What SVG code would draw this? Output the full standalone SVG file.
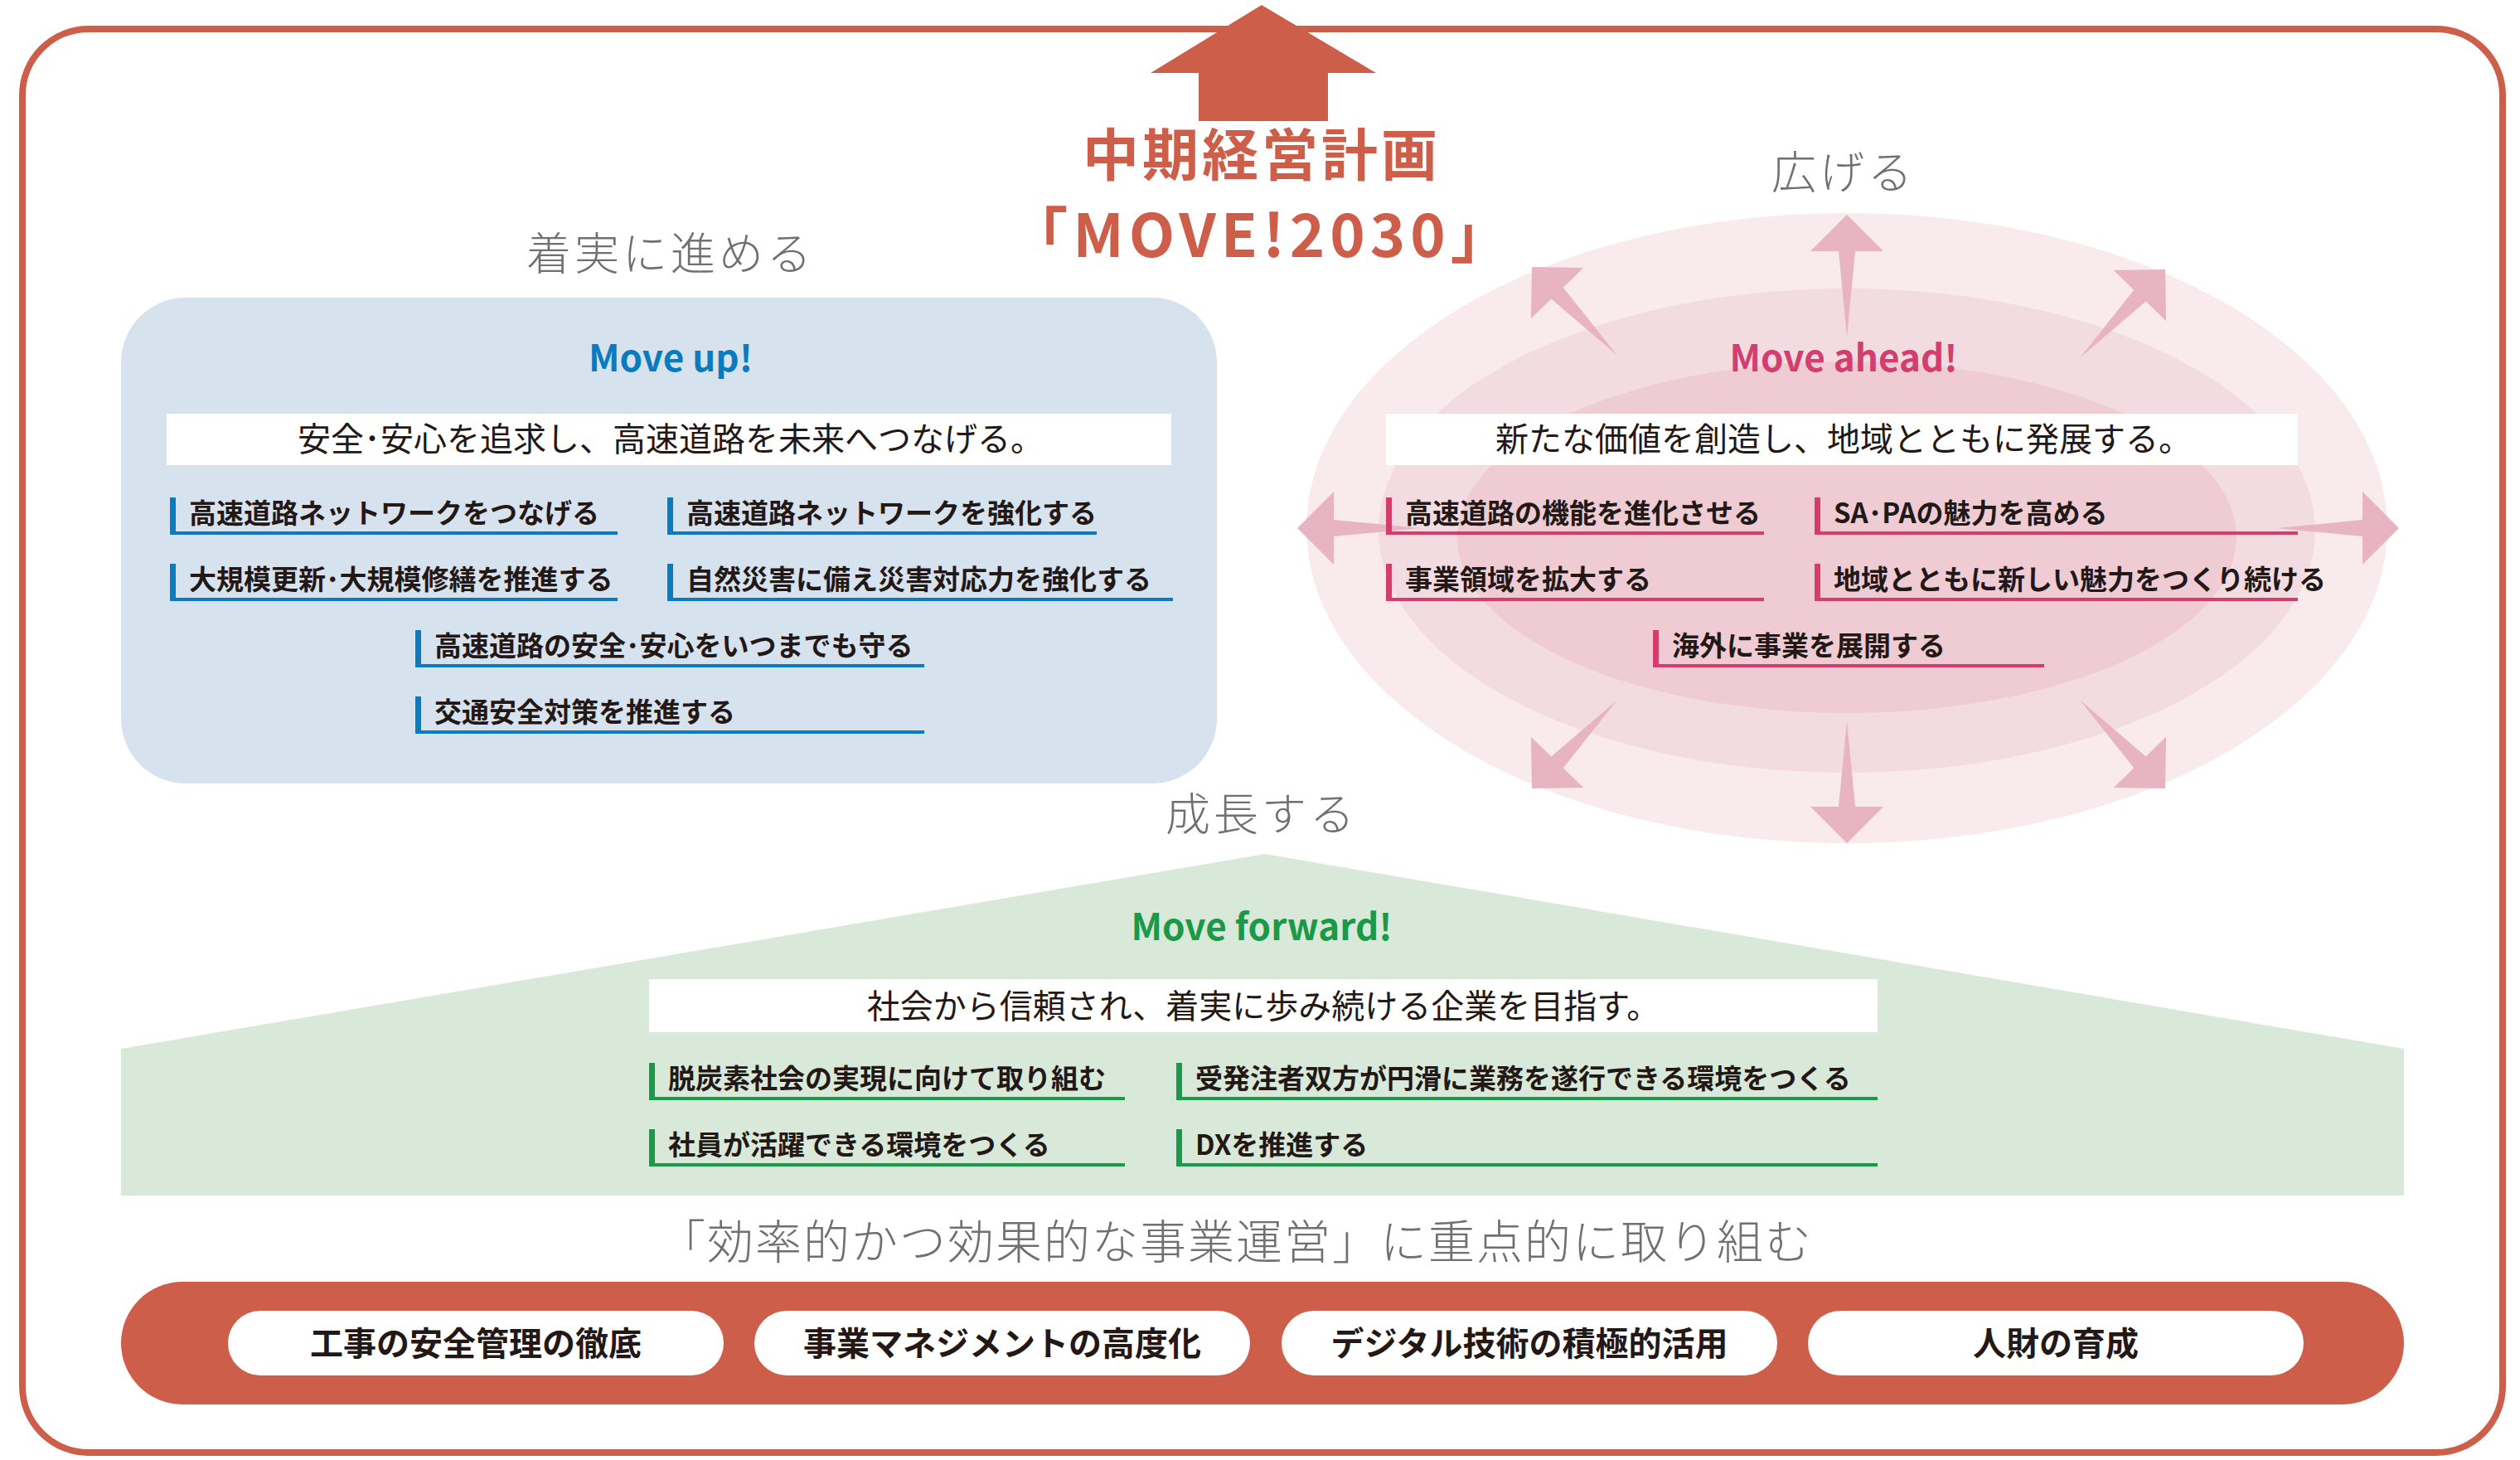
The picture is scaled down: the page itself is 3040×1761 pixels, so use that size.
<svg xmlns="http://www.w3.org/2000/svg" width="3040" height="1761" viewBox="0 0 3040 1761">
<style>
text{font-family:"Noto Sans CJK JP","Noto Sans",sans-serif}
.head{font-size:54px;fill:#707070;font-weight:300;text-anchor:middle;letter-spacing:4px}
.mv{font-size:44px;font-weight:700;text-anchor:middle}
.lead{font-size:40px;fill:#231815;text-anchor:middle}
.it{font-size:33px;font-weight:700;fill:#231815}
.pill{font-size:40px;font-weight:700;fill:#231815;text-anchor:middle}
.ab{fill:#e8b4c2}
</style>
<defs>
<polygon id="arr" points="0,0 44,44 10,44 0,148 -10,44 -44,44"/>
</defs>
<rect id="frame" x="27" y="35" width="2992" height="1717" rx="80" fill="none" stroke="#cd5f4a" stroke-width="8"/>
<g id="topArrow"><polygon points="1522,6 1660,88 1602,88 1602,146 1446,146 1446,88 1388,88" fill="#cd5f4a"/></g>
<g id="title">
<text x="1522" y="212" font-size="68" font-weight="700" fill="#cd5f4a" text-anchor="middle" letter-spacing="4">中期経営計画</text>
<text x="1522" y="310" font-size="72" font-weight="700" fill="#cd5f4a" text-anchor="middle" letter-spacing="6">「MOVE!2030」</text>
</g>
<g id="moveup">
<text class="head" x="809" y="326">着実に進める</text>
<rect x="146" y="359" width="1322" height="586" rx="78" fill="#d6e3ef"/>
<text class="mv" x="809" y="448" fill="#0a7bbf">Move up!</text>
<rect x="201" y="499" width="1212" height="62" fill="#fff"/>
<text class="lead" x="809" y="544">安全･安心を追求し、高速道路を未来へつなげる。</text>
<g fill="#0a7bbf">
<rect x="205" y="600" width="7" height="45"/><rect x="205" y="641" width="540" height="4"/>
<rect x="805" y="600" width="7" height="45"/><rect x="805" y="641" width="518" height="4"/>
<rect x="205" y="680" width="7" height="45"/><rect x="205" y="721" width="540" height="4"/>
<rect x="805" y="680" width="7" height="45"/><rect x="805" y="721" width="610" height="4"/>
<rect x="501" y="760" width="7" height="45"/><rect x="501" y="801" width="614" height="4"/>
<rect x="501" y="840" width="7" height="45"/><rect x="501" y="881" width="614" height="4"/>
</g>
<text class="it" x="228" y="631">高速道路ネットワークをつなげる</text>
<text class="it" x="828" y="631">高速道路ネットワークを強化する</text>
<text class="it" x="228" y="711">大規模更新･大規模修繕を推進する</text>
<text class="it" x="828" y="711">自然災害に備え災害対応力を強化する</text>
<text class="it" x="524" y="791">高速道路の安全･安心をいつまでも守る</text>
<text class="it" x="524" y="871">交通安全対策を推進する</text>
</g>
<g id="moveahead">
<text class="head" x="2224" y="228">広げる</text>
<ellipse cx="2228" cy="637" rx="652" ry="380" fill="#f8eaed"/>
<ellipse cx="2228" cy="640" rx="565" ry="292" fill="#f3dce1"/>
<ellipse cx="2228" cy="648" rx="470" ry="212" fill="#efccd4"/>
<g class="ab">
<use href="#arr" transform="translate(2228,259)"/>
<use href="#arr" transform="translate(2228,1017) rotate(180)"/>
<use href="#arr" transform="translate(1565,637) rotate(-90)"/>
<use href="#arr" transform="translate(2894,637) rotate(90)"/>
<use href="#arr" transform="translate(1848,322) rotate(-44)"/>
<use href="#arr" transform="translate(2612,325) rotate(44)"/>
<use href="#arr" transform="translate(1848,951) rotate(-136)"/>
<use href="#arr" transform="translate(2612,951) rotate(136)"/>
</g>
<text class="mv" x="2224" y="448" fill="#d43d6f">Move ahead!</text>
<rect x="1672" y="499" width="1100" height="62" fill="#fff"/>
<text class="lead" x="2224" y="544">新たな価値を創造し、地域とともに発展する。</text>
<g fill="#d43d6f">
<rect x="1672" y="600" width="7" height="45"/><rect x="1672" y="641" width="456" height="4"/>
<rect x="2189" y="600" width="7" height="45"/><rect x="2189" y="641" width="583" height="4"/>
<rect x="1672" y="680" width="7" height="45"/><rect x="1672" y="721" width="456" height="4"/>
<rect x="2189" y="680" width="7" height="45"/><rect x="2189" y="721" width="583" height="4"/>
<rect x="1994" y="760" width="7" height="45"/><rect x="1994" y="801" width="472" height="4"/>
</g>
<text class="it" x="1695" y="631">高速道路の機能を進化させる</text>
<text class="it" x="2212" y="631">SA･PAの魅力を高める</text>
<text class="it" x="1695" y="711">事業領域を拡大する</text>
<text class="it" x="2212" y="711">地域とともに新しい魅力をつくり続ける</text>
<text class="it" x="2017" y="791">海外に事業を展開する</text>
</g>
<g id="moveforward">
<text class="head" x="1522" y="1002">成長する</text>
<polygon points="1526,1030 2900,1265 2900,1442 146,1442 146,1265" fill="#d9e9d9"/>
<text class="mv" x="1522" y="1134" fill="#1a9a48">Move forward!</text>
<rect x="783" y="1181" width="1482" height="64" fill="#fff"/>
<text class="lead" x="1524" y="1228">社会から信頼され、着実に歩み続ける企業を目指す。</text>
<g fill="#1a9a48">
<rect x="783" y="1282" width="7" height="45"/><rect x="783" y="1323" width="574" height="4"/>
<rect x="1419" y="1282" width="7" height="45"/><rect x="1419" y="1323" width="846" height="4"/>
<rect x="783" y="1362" width="7" height="45"/><rect x="783" y="1403" width="574" height="4"/>
<rect x="1419" y="1362" width="7" height="45"/><rect x="1419" y="1403" width="846" height="4"/>
</g>
<text class="it" x="806" y="1313">脱炭素社会の実現に向けて取り組む</text>
<text class="it" x="1442" y="1313">受発注者双方が円滑に業務を遂行できる環境をつくる</text>
<text class="it" x="806" y="1393">社員が活躍できる環境をつくる</text>
<text class="it" x="1442" y="1393">DXを推進する</text>
</g>
<g id="focus">
<text x="1491" y="1518" font-size="56" fill="#707070" font-weight="300" text-anchor="middle" letter-spacing="2">「効率的かつ効果的な事業運営」に重点的に取り組む</text>
<rect x="146" y="1546" width="2754" height="148" rx="74" fill="#cd5f4a"/>
<rect x="275" y="1581" width="598" height="78" rx="39" fill="#fff"/>
<rect x="910" y="1581" width="598" height="78" rx="39" fill="#fff"/>
<rect x="1546" y="1581" width="598" height="78" rx="39" fill="#fff"/>
<rect x="2181" y="1581" width="598" height="78" rx="39" fill="#fff"/>
<text class="pill" x="574" y="1635">工事の安全管理の徹底</text>
<text class="pill" x="1209" y="1635">事業マネジメントの高度化</text>
<text class="pill" x="1845" y="1635">デジタル技術の積極的活用</text>
<text class="pill" x="2480" y="1635">人財の育成</text>
</g>
</svg>
